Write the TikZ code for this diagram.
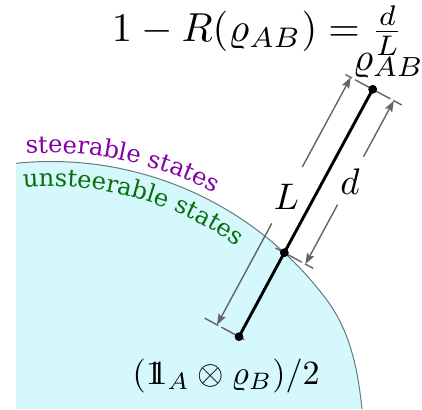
\documentclass[tikz,border=0pt]{standalone}
\usepackage{fontspec}
\usepackage{amsmath}
\newfontfamily\dvserif{DejaVu Serif}
\usetikzlibrary{calc,arrows.meta,decorations.text}
\definecolor{cyanfill}{RGB}{212,248,252}
\definecolor{edgecol}{RGB}{95,125,125}
\definecolor{dimgray}{RGB}{100,100,100}
\definecolor{stpurple}{RGB}{130,0,165}
\definecolor{stgreen}{RGB}{10,110,10}
\newcommand{\idone}{\mathrm{1}\mkern-6.5mu\mathrm{1}}
\begin{document}
\begin{tikzpicture}[x=1pt,y=1pt,
  dimline/.style={draw=dimgray, line width=1.4pt},
  dimarrow/.style={dimline, -{Stealth[length=11pt,width=8pt,inset=2pt]}},
  dotnode/.style={circle, fill=black, inner sep=0pt, minimum size=8.5pt},
  mathlbl/.style={inner sep=0pt, scale=3.7},
  titlelbl/.style={inner sep=0pt, scale=4.05},
  rholbl/.style={inner sep=0pt, scale=3.95},
  mixlbl/.style={inner sep=0pt, scale=3.4},
  mainline/.style={line width=2.9pt, black}]
\useasboundingbox (0,0) rectangle (422,409);
\coordinate (C) at (51.2,-96);
% region
\fill[cyanfill] (16,0) -- ($(C)+(95.88:343.5)$) arc[start angle=95.88,end angle=36.6,radius=343.5]
  .. controls +(-53.4:40) and +(96:38) .. (362,0) -- cycle;
\draw[edgecol, line width=1pt] ($(C)+(95.88:343.5)$) arc[start angle=95.88,end angle=36.6,radius=343.5]
  .. controls +(-53.4:40) and +(96:38) .. (362,0);
% curved labels
\path[decorate, decoration={text along path,
  text={|\dvserif\fontsize{24.2}{28}\selectfont\color{stpurple}|steerable states}}]
  ($(C)+(94.1:352)$) arc[start angle=94.1, end angle=40, radius=352];
\path[decorate, decoration={text along path,
  text={|\dvserif\fontsize{24.2}{28}\selectfont\color{stgreen}|unsteerable states}}]
  ($(C)+(95.0:318.5)$) arc[start angle=95.0, end angle=40, radius=318.5];
% points
\coordinate (pT) at (372.7,319.7);
\coordinate (pM) at (284.3,156.3);
\coordinate (pB) at (239,72.3);
% dimension reference points
\coordinate (LB) at ($(pB)!25pt!90:(pT)$);
\coordinate (LT) at ($(pT)!25pt!-90:(pB)$);
\coordinate (RM) at ($(pM)!24pt!-90:(pT)$);
\coordinate (RT) at ($(pT)!24pt!90:(pM)$);
% extension lines (top)
\draw[dimline] ($(pT)!31pt!-90:(pB)$) -- ($(pT)!23.5pt!-90:(pB)$);
\draw[dimline] ($(pT)!20pt!-90:(pB)$) -- ($(pT)!20pt!90:(pB)$);
\draw[dimline] ($(pT)!23.5pt!90:(pB)$) -- ($(pT)!33pt!90:(pB)$);
% extension lines (middle)
\draw[dimline] ($(pM)!10pt!90:(pT)$) -- ($(pM)!20pt!-90:(pT)$);
\draw[dimline] ($(pM)!23.5pt!-90:(pT)$) -- ($(pM)!33pt!-90:(pT)$);
% extension lines (bottom)
\draw[dimline] ($(pB)!39pt!90:(pT)$) -- ($(pB)!23.5pt!90:(pT)$);
\draw[dimline] ($(pB)!20pt!90:(pT)$) -- ($(pB)!6pt!-90:(pT)$);
% dimension arrows
\draw[dimarrow] ($(LB)!0.41!(LT)$) -- (LB);
\draw[dimarrow] ($(LB)!0.638!(LT)$) -- (LT);
\draw[dimarrow] ($(RM)!0.364!(RT)$) -- (RM);
\draw[dimarrow] ($(RM)!0.657!(RT)$) -- (RT);
\node[mathlbl] (Llbl) at ($(LB)!0.519!(LT)$) {$L$};
\node[mathlbl] (dlbl) at ($(RM)!0.505!(RT)$) {$d$};
% main segment and dots
\node[dotnode] (T) at (pT) {};
\node[dotnode] (M) at (pM) {};
\node[dotnode] (B) at (pB) {};
\draw[mainline] (B.center) -- (M.center) -- (T.center);
\node[dotnode] at (pT) {};
\node[dotnode] at (pM) {};
\node[dotnode] at (pB) {};
% formulas
\node[titlelbl, anchor=base west] (title) at (111,367.5) {$1-R(\varrho_{AB})=\frac{d}{L}$};
\node[rholbl, anchor=base west] (rho) at (352,338) {$\varrho_{AB}$};
\node[mixlbl, anchor=base west] (mix) at (132,25) {$(\idone_A\otimes\varrho_B)/2$};
\end{tikzpicture}
\end{document}
